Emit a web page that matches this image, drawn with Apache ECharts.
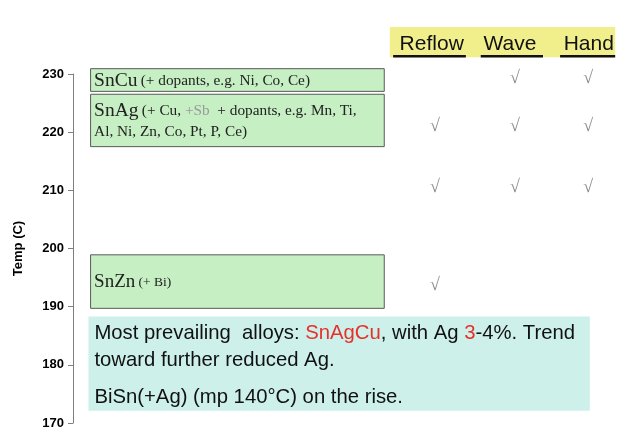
<!DOCTYPE html>
<html>
<head>
<meta charset="utf-8">
<script src="https://cdn.jsdelivr.net/npm/echarts@6/dist/echarts.min.js"></script>
<style>html,body{margin:0;padding:0;background:#fff;}#c{width:624px;height:447px;}</style>
</head>
<body>
<div id="c"></div>
<script>
// ---- data ----
const yTicks = [170, 180, 190, 200, 210, 220, 230];
const alloyNames = ['SnCu', 'SnAg', 'SnZn'];
const alloyTop = [231.0, 226.6, 199.0];
const alloyBottom = [227.1, 217.6, 189.8];
const alloyX = [3.1, 56.4];
const processNames = ['Reflow', 'Wave', 'Hand'];
const processX = [65.7, 80.2, 93.5];
const headerTextX = [65.1, 79.3, 93.6];
const headerLineStart = [58.1, 74.0, 88.4];
const headerLineEnd = [71.3, 85.3, 98.4];
const rowTemps = [229.2, 221.0, 210.5, 193.6];
const rowReflow = [0, 1, 1, 1];
const rowWave = [1, 1, 1, 0];
const rowHand = [1, 1, 1, 0];
const headerRange = [232.9, 238.1];
const headerX = [57.5, 98.4];
const noteRange = [172.1, 188.3];
const noteX = [2.8, 93.8];

const chart = echarts.init(document.getElementById('c'));

const boxData = alloyNames.map((n, i) => [alloyX[0], alloyX[1], alloyTop[i], alloyBottom[i], n]);
const checkData = [];
const cols = [rowReflow, rowWave, rowHand];
rowTemps.forEach((t, r) => {
  cols.forEach((col, c) => { if (col[r]) checkData.push([processX[c], t]); });
});

const serif = '"Liberation Serif", "DejaVu Serif", serif';
const sans = '"Liberation Sans", Arial, sans-serif';

const boxTexts = {
  SnCu: '{big|SnCu} {sm|(+ dopants, e.g. Ni, Co, Ce)}',
  SnAg: '{big|SnAg} {sm|(+ Cu, }{gr|+Sb}{sm|  + dopants, e.g. Mn, Ti,}\n{sm2|Al, Ni, Zn, Co, Pt, P, Ce)}',
  SnZn: '{big2|SnZn} {sm3|(+ Bi)}'
};

const option = {
  animation: false,
  grid: { left: 73, right: 0, top: 74, bottom: 24 },
  xAxis: { type: 'value', min: 0, max: 100, show: false },
  yAxis: {
    type: 'value', min: 170, max: 230, interval: 10,
    name: 'Temp (C)', nameLocation: 'middle', nameGap: 48,
    nameTextStyle: { fontFamily: sans, fontWeight: 'bold', fontSize: 13, color: '#000' },
    axisLine: { show: true, lineStyle: { color: '#7f7f7f', width: 1 } },
    axisTick: { show: true, length: 5, lineStyle: { color: '#7f7f7f' } },
    axisLabel: { fontFamily: sans, fontWeight: 'bold', fontSize: 13, color: '#000', margin: 9 },
    splitLine: { show: false }
  },
  series: [
    {
      type: 'custom', clip: false,
      data: [[noteX[0], noteX[1], noteRange[1], noteRange[0]]],
      renderItem: (params, api) => {
        const p0 = api.coord([api.value(0), api.value(2)]);
        const p1 = api.coord([api.value(1), api.value(3)]);
        return {
          type: 'group', children: [
            { type: 'rect', shape: { x: p0[0], y: p0[1], width: p1[0] - p0[0], height: p1[1] - p0[1] }, style: { fill: '#cdf0ea' } },
            { type: 'text', style: {
                x: p0[0] + 6, y: p0[1] + 3,
                text: '{n|Most prevailing  alloys: }{r|SnAgCu}{n|, with Ag }{r|3}{n|-4%. Trend}\n{n|toward further reduced Ag.}\n{g|}\n{n|BiSn(+Ag) (mp 140°C) on the rise.}',
                rich: {
                  n: { fontFamily: sans, fontSize: 20.3, fill: '#111', lineHeight: 27 },
                  r: { fontFamily: sans, fontSize: 20.3, fill: '#e8302a', lineHeight: 27 },
                  g: { fontSize: 6, lineHeight: 10 }
                }
            } }
          ]
        };
      }
    },
    {
      type: 'custom', clip: false,
      data: boxData,
      renderItem: (params, api) => {
        const p0 = api.coord([api.value(0), api.value(2)]);
        const p1 = api.coord([api.value(1), api.value(3)]);
        const name = alloyNames[params.dataIndex];
        const h = p1[1] - p0[1];
        return {
          type: 'group', children: [
            { type: 'rect', shape: { x: p0[0] + 0.5, y: p0[1] + 0.5, width: p1[0] - p0[0], height: h },
              style: { fill: '#c6efc3', stroke: '#5a5a5a', lineWidth: 1 } },
            { type: 'text', style: {
                x: p0[0] + 4, y: name === 'SnAg' ? p0[1] + 5 : p0[1] + h / 2 + 1,
                verticalAlign: name === 'SnAg' ? 'top' : 'middle',
                text: boxTexts[name],
                rich: {
                  big: { fontFamily: serif, fontSize: 19.5, fill: '#222', lineHeight: 24 },
                  sm: { fontFamily: serif, fontSize: 15.3, fill: '#222', lineHeight: 24 },
                  sm2: { fontFamily: serif, fontSize: 15.3, fill: '#222', lineHeight: 18 },
                  gr: { fontFamily: serif, fontSize: 15.3, fill: '#9a9a9a', lineHeight: 24 },
                  big2: { fontFamily: serif, fontSize: 19, fill: '#222', lineHeight: 22 },
                  sm3: { fontFamily: serif, fontSize: 13.5, fill: '#222', lineHeight: 22 }
                }
            } }
          ]
        };
      }
    },
    {
      type: 'custom', clip: false,
      data: [[headerX[0], headerX[1], headerRange[1], headerRange[0]]],
      renderItem: (params, api) => {
        const p0 = api.coord([api.value(0), api.value(2)]);
        const p1 = api.coord([api.value(1), api.value(3)]);
        const children = [
          { type: 'rect', shape: { x: p0[0], y: p0[1], width: p1[0] - p0[0], height: p1[1] - p0[1] }, style: { fill: '#f1ef8c' } }
        ];
        processNames.forEach((n, i) => {
          const cx = api.coord([headerTextX[i], 0])[0];
          const lx0 = api.coord([headerLineStart[i], 0])[0];
          const lx1 = api.coord([headerLineEnd[i], 0])[0];
          children.push({ type: 'text', style: { x: cx, y: (p0[1] + p1[1]) / 2 + 2, text: n, align: 'center', verticalAlign: 'middle', font: '21px ' + sans, fill: '#111' } });
          children.push({ type: 'line', shape: { x1: lx0, y1: p1[1] - 1, x2: lx1, y2: p1[1] - 1 }, style: { stroke: '#111', lineWidth: 2.5 } });
        });
        return { type: 'group', children };
      }
    },
    {
      type: 'scatter', data: checkData, symbolSize: 0, silent: true,
      label: { show: true, position: 'inside', formatter: '√', fontFamily: serif, fontSize: 18, color: '#6f6f6f' }
    }
  ]
};
chart.setOption(option);
</script>
</body>
</html>
